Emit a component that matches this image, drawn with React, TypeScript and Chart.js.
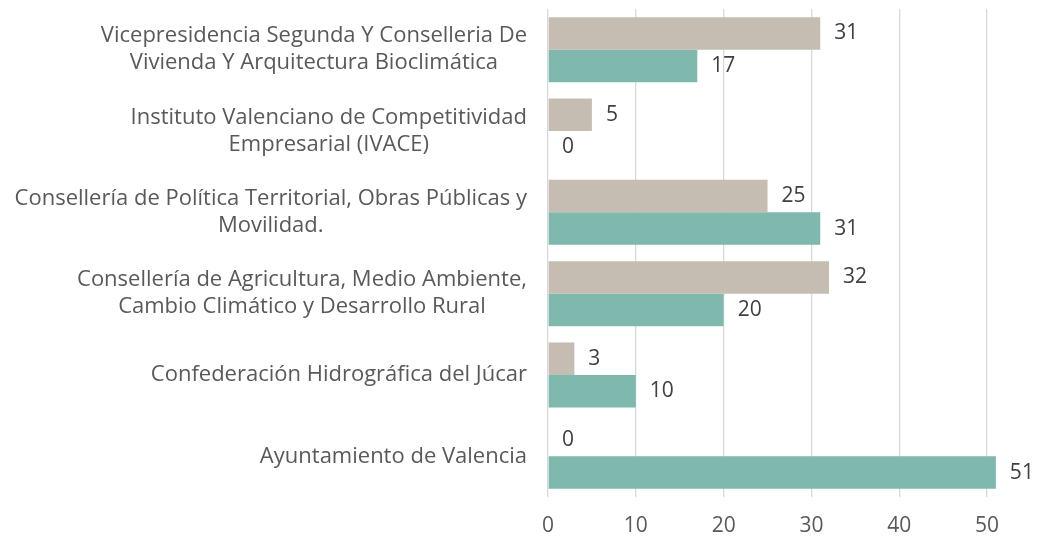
import React, { useEffect, useRef } from "react";
import { Chart, registerables } from "chart.js";

Chart.register(...registerables);

const categories: string[][] = [
  ["Vicepresidencia Segunda Y Conselleria De", "Vivienda Y Arquitectura Bioclimática"],
  ["Instituto Valenciano de Competitividad", "Empresarial (IVACE)"],
  ["Consellería de Política Territorial, Obras Públicas y", "Movilidad."],
  ["Consellería de Agricultura, Medio Ambiente,", "Cambio Climático y Desarrollo Rural"],
  ["Confederación Hidrográfica del Júcar"],
  ["Ayuntamiento de Valencia"],
];
const seriesBeige: number[] = [31, 5, 25, 32, 3, 0];
const seriesTeal: number[] = [17, 0, 31, 20, 10, 51];
const xTicks: number[] = [0, 10, 20, 30, 40, 50];

const FONT = "'Open Sans', 'Liberation Sans', sans-serif";
const LABEL_RIGHT = 527;
const LINE_H = 27;

const yLabelPlugin = {
  id: "yLabels",
  afterDraw(chart: any) {
    const ctx = chart.ctx;
    const y = chart.scales.y;
    ctx.save();
    ctx.font = `22px ${FONT}`;
    ctx.fillStyle = "#595959";
    ctx.textAlign = "center";
    ctx.textBaseline = "middle";
    categories.forEach((lines, i) => {
      const cy = y.getPixelForTick(i);
      const w = Math.max(...lines.map((l) => ctx.measureText(l).width));
      const cx = LABEL_RIGHT - w / 2;
      const top = cy - ((lines.length - 1) * LINE_H) / 2;
      lines.forEach((l, j) => ctx.fillText(l, cx, top + j * LINE_H));
    });
    ctx.restore();
  },
};

const valueLabelPlugin = {
  id: "valueLabels",
  afterDatasetsDraw(chart: any) {
    const ctx = chart.ctx;
    ctx.save();
    ctx.font = `21px ${FONT}`;
    ctx.fillStyle = "#404040";
    ctx.textAlign = "left";
    ctx.textBaseline = "middle";
    chart.data.datasets.forEach((ds: any, di: number) => {
      const meta = chart.getDatasetMeta(di);
      meta.data.forEach((el: any, i: number) => {
        ctx.fillText(String(ds.data[i]), el.x + 14, el.y);
      });
    });
    ctx.restore();
  },
};

export default function App() {
  const ref = useRef<HTMLCanvasElement>(null);
  useEffect(() => {
    if (!ref.current) return;
    const chart = new Chart(ref.current, {
      type: "bar",
      data: {
        labels: categories.map((c) => c.join(" ")),
        datasets: [
          { label: "Serie 1", data: seriesBeige, backgroundColor: "#c5bdb1" },
          { label: "Serie 2", data: seriesTeal, backgroundColor: "#7fb9ae" },
        ],
      },
      options: {
        indexAxis: "y",
        responsive: false,
        animation: false,
        layout: { padding: { left: 0, right: 6, top: 9, bottom: 0 } },
        datasets: { bar: { categoryPercentage: 0.8, barPercentage: 1.0 } },
        plugins: { legend: { display: false }, tooltip: { enabled: false } },
        scales: {
          x: {
            min: 0,
            max: 55,
            afterBuildTicks: (scale: any) => {
              scale.ticks = xTicks.map((v) => ({ value: v }));
            },
            afterFit: (scale: any) => {
              scale.height = 40;
            },
            grid: { color: "#d9d9d9", lineWidth: 1.3, drawTicks: false },
            border: { display: false },
            ticks: { color: "#595959", font: { size: 21, family: FONT }, padding: 16 },
          },
          y: {
            afterFit: (scale: any) => {
              scale.width = 548;
            },
            grid: { display: false },
            border: { display: false },
            ticks: { display: false },
          },
        },
      },
      plugins: [yLabelPlugin, valueLabelPlugin],
    });
    return () => chart.destroy();
  }, []);
  return (
    <div style={{ position: "fixed", left: 0, top: 0, width: 1037, height: 537, background: "#fff" }}>
      <canvas ref={ref} width={1037} height={537} />
    </div>
  );
}
